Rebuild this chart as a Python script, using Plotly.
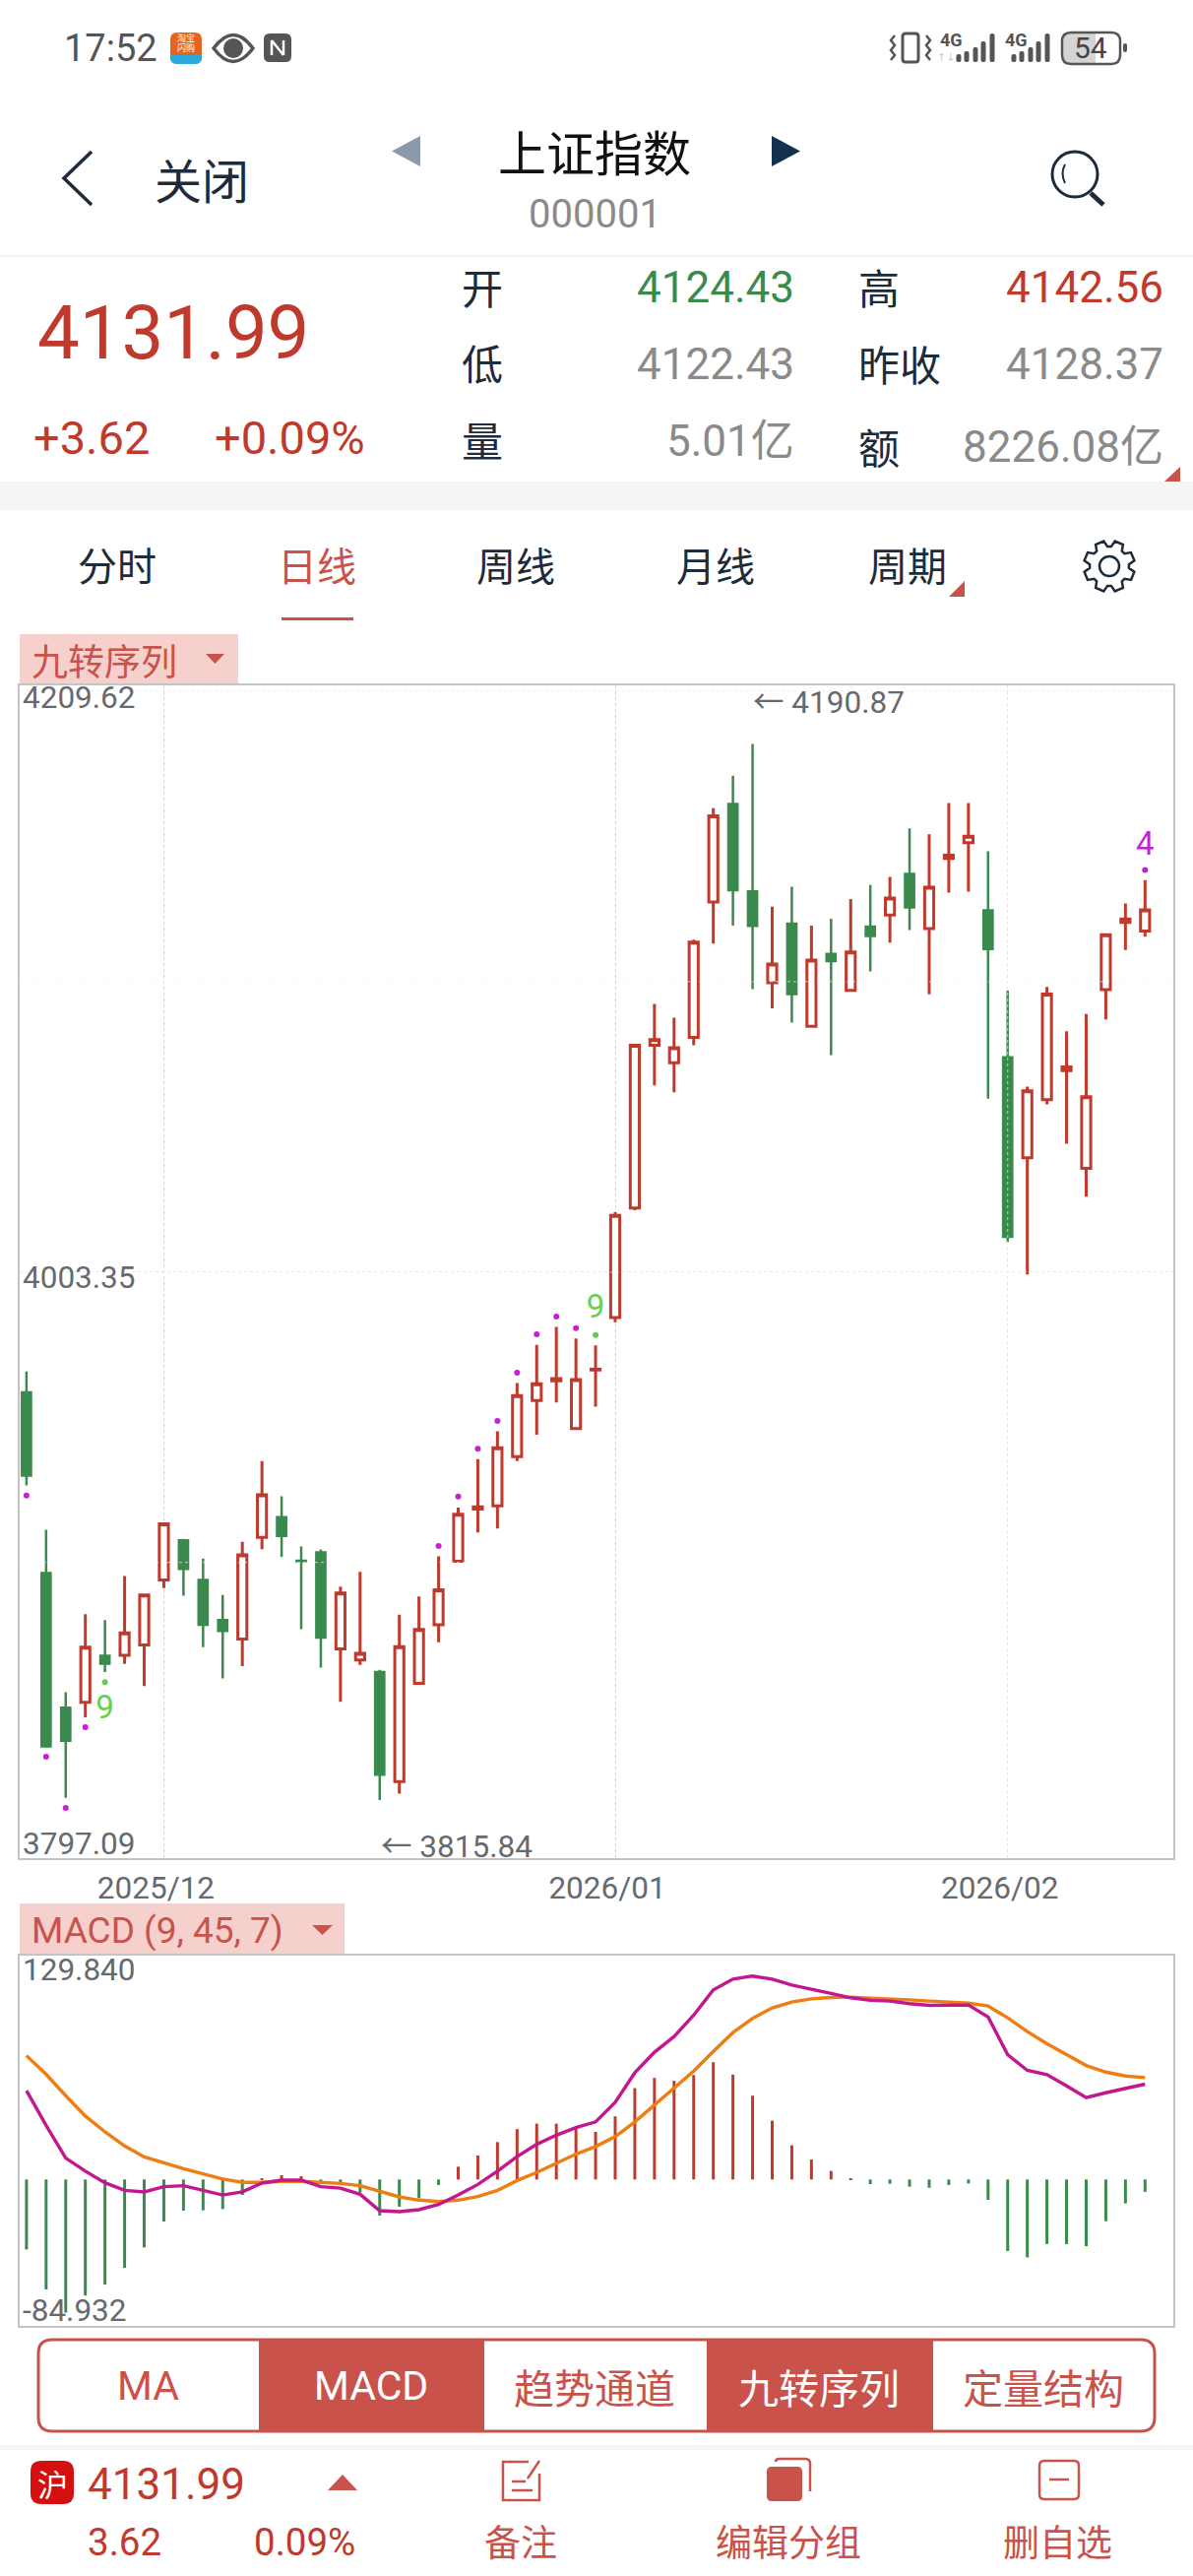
import math
import plotly.graph_objects as go

W, H = 1212, 2616

# ---------- data ----------
dates = ["2025-11-20","2025-11-21","2025-11-24","2025-11-25","2025-11-26","2025-11-27","2025-11-28",
         "2025-12-01","2025-12-02","2025-12-03","2025-12-04","2025-12-05","2025-12-08","2025-12-09","2025-12-10","2025-12-11","2025-12-12",
         "2025-12-15","2025-12-16","2025-12-17","2025-12-18","2025-12-19","2025-12-22","2025-12-23","2025-12-24","2025-12-25","2025-12-26",
         "2025-12-29","2025-12-30","2025-12-31",
         "2026-01-05","2026-01-06","2026-01-07","2026-01-08","2026-01-09","2026-01-12","2026-01-13","2026-01-14","2026-01-15","2026-01-16",
         "2026-01-19","2026-01-20","2026-01-21","2026-01-22","2026-01-23","2026-01-26","2026-01-27","2026-01-28","2026-01-29","2026-01-30",
         "2026-02-02","2026-02-03","2026-02-04","2026-02-05","2026-02-06","2026-02-09","2026-02-10","2026-02-11"]
opens = [3960.6,3896.4,3848.6,3850.5,3867.1,3867.2,3870.9,3894.0,3908.1,3894.0,3879.7,3873.0,3909.1,3916.3,3900.8,3903.8,3869.5,
         3865.6,3861.3,3822.4,3857.3,3878.1,3900.6,3919.2,3920.3,3937.8,3957.7,3964.7,3947.8,3968.6,
         3987.2,4026.1,4083.9,4077.7,4086.7,4134.8,4169.6,4138.5,4106.1,4127.1,4090.6,4116.3,4103.4,4126.0,4130.1,4144.7,4125.3,4150.2,4155.8,
         4131.8,4079.6,4043.9,4064.6,4074.9,4040.2,4103.6,4127.5,4124.43]
closes = [3931.1,3834.9,3836.9,3870.1,3864.3,3875.2,3888.7,3913.9,3897.9,3878.1,3875.9,3902.9,3924.2,3909.6,3900.6,3873.5,3889.4,
          3867.9,3824.8,3870.3,3876.4,3890.5,3917.3,3920.0,3940.9,3959.5,3963.7,3965.5,3965.2,3968.8,
          4023.5,4083.9,4085.9,4083.0,4120.5,4165.4,4139.0,4126.3,4112.7,4102.1,4114.1,4113.8,4117.0,4122.7,4136.2,4132.8,4140.0,4151.4,4158.1,
          4118.1,4015.9,4067.7,4102.1,4076.2,4065.6,4123.1,4128.7,4131.99]
highs = [3968.0,3911.8,3854.1,3881.8,3879.7,3895.4,3888.7,3913.9,3908.6,3901.6,3888.7,3907.5,3936.2,3923.7,3905.9,3904.8,3891.6,
         3896.9,3862.1,3881.7,3888.1,3902.4,3919.7,3936.9,3946.8,3963.9,3977.5,3983.9,3979.8,3977.3,
         4024.6,4083.9,4098.6,4093.7,4121.4,4168.1,4179.6,4190.87,4133.1,4140.2,4126.4,4128.8,4135.8,4140.8,4143.7,4160.9,4158.8,4169.9,4169.9,
         4152.8,4103.3,4069.2,4104.6,4088.9,4095.0,4123.1,4134.2,4142.56]
lows = [3927.6,3834.8,3816.6,3845.2,3861.3,3864.2,3856.3,3891.1,3888.4,3870.1,3859.0,3863.4,3904.9,3902.2,3876.5,3862.9,3850.7,
        3863.8,3815.84,3818.1,3857.0,3871.9,3900.3,3910.9,3912.3,3936.2,3945.6,3957.0,3947.5,3955.5,
        3985.5,4025.3,4069.6,4067.2,4083.9,4120.0,4126.4,4103.8,4097.0,4091.9,4090.4,4080.4,4103.2,4110.1,4120.3,4124.8,4102.0,4138.1,4138.4,
        4064.9,4013.9,4002.5,4062.9,4048.9,4030.1,4093.1,4117.7,4122.43]

td_up_dates = ["2025-11-20","2025-11-21","2025-11-24","2025-11-25","2025-12-19","2025-12-22","2025-12-23","2025-12-24","2025-12-25",
               "2025-12-26","2025-12-29","2025-12-30","2026-02-11"]
td_up_vals = [3924.0,3831.2,3813.0,3841.7,3906.1,3923.6,3940.6,3950.5,3967.6,3981.2,3987.5,3983.4,4146.1]
td_green_dates = ["2025-11-26","2025-12-31"]
td_green_vals = [3857.7,3981.0]
td_num_dates = ["2025-11-26","2025-12-31","2026-02-11"]
td_num_vals = [3847.9,3990.0,4154.5]
td_num_text = ["9","9","4"]

macd_bar = [-40.6,-63.8,-77.2,-67.3,-61.0,-51.3,-39.4,-24.4,-18.1,-17.9,-17.2,-9.0,0.5,2.5,1.9,-1.3,-1.9,-7.6,-21.0,-15.8,-10.9,-3.2,
            7.4,13.9,21.7,29.2,32.4,32.4,29.9,27.6,36.6,53.0,58.9,57.2,60.6,68.0,60.8,48.6,34.1,19.8,11.6,5.0,0.2,
            -2.7,-2.5,-4.2,-4.8,-3.2,-2.3,-11.8,-41.5,-45.2,-37.4,-37.5,-38.7,-24.2,-13.9,-7.2]
dif = [51.5,31.4,12.4,4.8,-1.9,-6.3,-7.2,-4.2,-3.6,-6.3,-9.0,-7.2,-2.1,-0.4,-0.4,-4.2,-5.0,-8.6,-18.1,-18.7,-17.5,-14.5,-9.0,-2.9,4.8,13.3,20.4,25.7,30.1,33.4,
       44.8,61.9,73.8,82.9,95.3,110.0,116.2,118.0,116.2,112.8,110.5,107.9,105.4,103.9,103.5,102.0,101.0,101.0,101.2,94.3,72.4,63.3,60.8,54.3,47.5,50.3,52.8,55.3]
dea = [71.8,61.0,48.6,36.8,27.6,19.4,13.1,9.5,6.3,3.2,0.2,-1.7,-1.7,-1.1,-1.1,-1.7,-2.3,-3.6,-7.1,-10.1,-12.0,-12.8,-12.0,-9.9,-6.3,-0.6,4.0,9.5,14.7,19.1,
       24.8,33.4,43.3,52.8,62.9,74.3,85.2,93.4,99.5,102.9,104.8,105.6,105.8,105.2,104.8,104.2,103.5,102.9,102.3,100.6,93.8,85.8,78.7,72.4,66.1,62.3,60.0,59.1]

month_ticks = ["2025-12-01","2026-01-05","2026-02-02"]
month_labels = ["2025/12","2026/01","2026/02"]
price_grid = [3900.22,4106.49,4209.62]
price_mid = [4003.35]
price_labels = ["4209.62","4003.35","3797.09"]
macd_labels = ["129.840","-84.932"]

# ---------- styling ----------
RED = "#bf3a2c"; GREEN = "#3a8a4e"; UI = "#c9534a"; DARK = "#1d2b3a"; GREY = "#8a8a8a"; AX = "#666a6e"
NUM = 'Roboto, "Noto Sans CJK SC"'; CJK = '"Noto Sans CJK SC", Roboto'

def X(x): return x / W
def Y(y): return 1 - y / H

shapes, anns = [], []

def P(d):
    out, isx, parts = [], True, d.split()
    for t in parts:
        if t.isalpha():
            out.append(t); isx = True
        else:
            v = float(t)
            out.append(f"{X(v):.6f}" if isx else f"{Y(v):.6f}")
            isx = not isx
    return " ".join(out)

def path(d, fill=None, line=None, lw=0, layer="above"):
    s = dict(type="path", xref="paper", yref="paper", path=P(d), layer=layer, line=dict(width=lw, color=line or "rgba(0,0,0,0)"))
    if fill: s["fillcolor"] = fill
    shapes.append(s)

def rect(x0, y0, x1, y1, fill=None, line=None, lw=0, layer="below"):
    s = dict(type="rect", xref="paper", yref="paper", x0=X(x0), x1=X(x1), y0=Y(y0), y1=Y(y1), layer=layer,
             line=dict(width=lw, color=line or "rgba(0,0,0,0)"))
    if fill: s["fillcolor"] = fill
    shapes.append(s)

def circ(cx, cy, r, fill=None, line=None, lw=0):
    s = dict(type="circle", xref="paper", yref="paper", x0=X(cx-r), x1=X(cx+r), y0=Y(cy-r), y1=Y(cy+r),
             line=dict(width=lw, color=line or "rgba(0,0,0,0)"))
    if fill: s["fillcolor"] = fill
    shapes.append(s)

def rr(x0, y0, x1, y1, r):
    return (f"M {x0+r} {y0} L {x1-r} {y0} Q {x1} {y0} {x1} {y0+r} L {x1} {y1-r} Q {x1} {y1} {x1-r} {y1} "
            f"L {x0+r} {y1} Q {x0} {y1} {x0} {y1-r} L {x0} {y0+r} Q {x0} {y0} {x0+r} {y0} Z")

def txt(s, x, y, size, color, anchor="center", font=CJK):
    anns.append(dict(text=s, x=X(x), y=Y(y), xref="paper", yref="paper", showarrow=False, xanchor=anchor, yanchor="middle",
                     font=dict(size=size, color=color, family=font), borderpad=0, borderwidth=0))

# ---- status bar ----
txt("17:52", 65, 49, 38, "#555555", "left", NUM)
path(rr(173, 33, 205, 65, 7), fill="#e8641b")
path("M 173 56 L 205 56 L 205 58 Q 205 65 198 65 L 180 65 Q 173 65 173 58 Z", fill="#29a9e0")
txt("淘宝", 189, 39, 9, "#ffffff"); txt("闪购", 189, 49, 9, "#ffffff")
path("M 217 49 Q 237 22 257 49 Q 237 76 217 49 Z", line="#555555", lw=3.5)
circ(237, 49, 10, fill="#555555")
path(rr(268, 34, 296, 63, 6), fill="#555555")
path("M 276 41 L 276 56 M 276 41 L 288 56 M 288 41 L 288 56", line="#ffffff", lw=2.5)

path(rr(917, 34, 933, 63, 3), line="#555555", lw=3)
path("M 909 36 L 905 41 L 909 46 L 905 51 L 909 56 L 905 61", line="#555555", lw=2.5)
path("M 941 36 L 945 41 L 941 46 L 945 51 L 941 56 L 945 61", line="#555555", lw=2.5)
txt("<b>4G</b>", 966, 41, 18, "#555555", font=NUM)
txt("↑↓", 961, 59, 11, "#cccccc", font="DejaVu Sans")
for bx, top in [(974, 55), (982, 52), (991, 48), (999, 42), (1008, 34)]:
    path(rr(bx-2.5, top, bx+2.5, 63, 2), fill="#555555")
txt("<b>4G</b>", 1032, 41, 18, "#555555", font=NUM)
for bx, top in [(1030, 55), (1038, 52), (1047, 48), (1055, 42), (1064, 34)]:
    path(rr(bx-2.5, top, bx+2.5, 63, 2), fill="#555555")
path("M 1086 34 L 1113 34 L 1113 64 L 1086 64 Q 1079 64 1079 57 L 1079 41 Q 1079 34 1086 34 Z", fill="#d4d4d4")
path(rr(1079, 33, 1138, 65, 9), line="#555555", lw=2.5)
path(rr(1141, 44, 1145, 53, 2), fill="#555555")
txt("54", 1108, 49, 30, "#444444", font=NUM)

# ---- header ----
path("M 93 154 L 65 181 L 93 208", line=DARK, lw=3.5)
txt("关闭", 205, 181, 48, DARK)
path("M 427 138 L 398 153.5 L 427 169 Z", fill="#8b9aab")
path("M 784 138 L 813 153.5 L 784 169 Z", fill="#14304f")
txt("上证指数", 604, 152, 49, "#111111")
txt("000001", 604, 217, 40, GREY, font=NUM)
circ(1092, 177, 23, line=DARK, lw=3)
path("M 1108 196 L 1121 208", line=DARK, lw=5)
path("M 1082 167 Q 1077 176 1082 186", line=DARK, lw=2)
rect(0, 259, W, 261, fill="#f4f4f4")

# ---- quote block ----
txt("4131.99", 38, 338, 76, RED, "left", NUM)
txt("+3.62", 34, 445, 47, RED, "left", NUM)
txt("+0.09%", 218, 445, 47, RED, "left", NUM)
for s, y in [("开", 291), ("低", 368), ("量", 446)]:
    txt(s, 469, y, 42, DARK, "left")
for s, y in [("高", 291), ("昨收", 369), ("额", 453)]:
    txt(s, 872, y, 42, DARK, "left")
txt("4124.43", 807, 292, 44, GREEN, "right", NUM)
txt("4122.43", 807, 370, 44, GREY, "right", NUM)
txt("5.01亿", 807, 448, 44, GREY, "right", NUM)
txt("4142.56", 1182, 292, 44, RED, "right", NUM)
txt("4128.37", 1182, 370, 44, GREY, "right", NUM)
txt("8226.08亿", 1182, 454, 44, GREY, "right", NUM)
path("M 1199 474 L 1199 489 L 1183 489 Z", fill=UI)
rect(0, 489, W, 518, fill="#f5f5f5")

# ---- tabs ----
for s, x, c in [("分时", 119, DARK), ("日线", 322, UI), ("周线", 524, DARK), ("月线", 727, DARK), ("周期", 922, DARK)]:
    txt(s, x, 573, 40, c)
rect(286, 627, 359, 630, fill=UI)
path("M 980 590 L 980 606 L 964 606 Z", fill=UI)
# gear
gx, gy, pts = 1127, 575, []
for k in range(8):
    a = k * math.pi / 4
    for da, r in [(-0.30, 20), (-0.17, 26), (0.17, 26), (0.30, 20)]:
        pts.append((gx + r * math.cos(a + da + math.pi / 8), gy + r * math.sin(a + da + math.pi / 8)))
path("M " + " L ".join(f"{p[0]:.1f} {p[1]:.1f}" for p in pts) + " Z", line=DARK, lw=2.5)
circ(gx, gy, 10, line=DARK, lw=2.5)

# ---- panel tags ----
rect(20, 644, 242, 696, fill="#f5d0cd")
txt("九转序列", 32, 670, 37, UI, "left")
path("M 209 664 L 228 664 L 218.5 674 Z", fill=UI)
rect(20, 1933, 350, 1986, fill="#f5d0cd")
txt("MACD (9, 45, 7)", 32, 1960, 37, UI, "left", NUM)
path("M 317 1955 L 338 1955 L 327.5 1965 Z", fill=UI)

# ---- chart labels ----
for s, y in zip(price_labels, [708, 1297, 1872]):
    txt(s, 23, y, 31.5, AX, "left", NUM)
txt("← " + "4190.87", 765, 714, 31.5, AX, "left", NUM)
txt("← " + "3815.84", 387, 1875, 31.5, AX, "left", NUM)
txt(macd_labels[0], 23, 2000, 31.5, AX, "left", NUM)
txt(macd_labels[1], 23, 2346, 31.5, AX, "left", NUM)

# ---- indicator buttons ----
path(rr(39, 2376, 1173, 2469, 14), line=UI, lw=3)
path("M 263 2376 L 492 2376 L 492 2469 L 263 2469 Z", fill=UI)
path("M 718 2376 L 948 2376 L 948 2469 L 718 2469 Z", fill=UI)
for s, x, c, f in [("MA", 150, UI, NUM), ("MACD", 377, "#ffffff", NUM), ("趋势通道", 604, UI, CJK), ("九转序列", 832, "#ffffff", CJK), ("定量结构", 1060, UI, CJK)]:
    txt(s, x, 2423, 41, c, font=f)

# ---- bottom bar ----
rect(0, 2483, W, 2488, fill="#f5f5f5")
path(rr(31, 2499, 75, 2543, 11), fill="#d40f0f")
txt("沪", 53, 2521, 31, "#ffffff")
txt("4131.99", 89, 2523, 44, RED, "left", NUM)
path("M 348 2513 L 363 2529 L 333 2529 Z", fill=UI)
txt("3.62", 89, 2581, 38.5, RED, "left", NUM)
txt("0.09%", 258, 2581, 38.5, RED, "left", NUM)
txt("备注", 529, 2580, 37, UI)
txt("编辑分组", 801, 2580, 37, UI)
txt("删自选", 1074, 2580, 37, UI)
path("M 548 2512 L 548 2539 L 511 2539 L 511 2500 L 537 2500", line=UI, lw=2.5)
path("M 548 2499 L 536 2517", line=UI, lw=2.5)
path("M 520 2520 L 534 2520 M 520 2529 L 541 2529", line=UI, lw=2.5)
path(rr(779, 2505, 815, 2540, 5), fill=UI)
path("M 788 2500 Q 788 2497 792 2497 L 818 2497 Q 823 2497 823 2502 L 823 2530", line=UI, lw=2.5)
path(rr(1056, 2499, 1096, 2538, 5), line=UI, lw=2.5)
path("M 1066 2518 L 1086 2518", line=UI, lw=2.5)

# pale grid dots that show through the candle bodies
for v in price_grid[:2] + price_mid:
    shapes.append(dict(type="line", xref="x domain", yref="y", x0=0, x1=1, y0=v, y1=v, layer="above",
                       line=dict(color="rgba(255,255,255,0.65)", width=1, dash="dot")))
for d in month_ticks[2:]:
    shapes.append(dict(type="line", xref="x", yref="y domain", x0=d, x1=d, y0=0, y1=1, layer="above",
                       line=dict(color="rgba(255,255,255,0.6)", width=1, dash="dot")))

# ---------- traces ----------
fig = go.Figure()
fig.add_trace(go.Candlestick(
    x=dates, open=opens, high=highs, low=lows, close=closes, whiskerwidth=0, xaxis="x", yaxis="y", showlegend=False,
    increasing=dict(line=dict(color=RED, width=3), fillcolor="#ffffff"),
    decreasing=dict(line=dict(color=GREEN, width=2.5), fillcolor=GREEN)))
fig.add_trace(go.Scatter(x=td_up_dates, y=td_up_vals, mode="markers", marker=dict(size=6, color="#c81fd6"), showlegend=False))
fig.add_trace(go.Scatter(x=td_green_dates, y=td_green_vals, mode="markers", marker=dict(size=6, color="#6bc65a"), showlegend=False))
fig.add_trace(go.Scatter(x=td_num_dates, y=td_num_vals, mode="text", text=td_num_text, textposition="middle center",
                         textfont=dict(size=33, family=NUM, color=["#62d24f", "#62d24f", "#c81fd6"]), showlegend=False))

fig.add_trace(go.Bar(x=dates, y=macd_bar, width=0.15, xaxis="x2", yaxis="y2", showlegend=False,
                     marker=dict(color=[RED if v > 0 else GREEN for v in macd_bar], line=dict(width=0))))
fig.add_trace(go.Scatter(x=dates, y=dea, mode="lines", line=dict(color="#ee7d12", width=3.4), xaxis="x2", yaxis="y2", showlegend=False))
fig.add_trace(go.Scatter(x=dates, y=dif, mode="lines", line=dict(color="#c2188f", width=3.4), xaxis="x2", yaxis="y2", showlegend=False))

xr = [-0.346, 58.44]
frame = dict(showline=True, linecolor="#c4c4c4", linewidth=2, mirror=True, zeroline=False, ticks="")
fig.update_layout(
    width=W, height=H, margin=dict(l=0, r=0, t=0, b=0), paper_bgcolor="#ffffff", plot_bgcolor="#ffffff",
    showlegend=False, boxgap=0.34, shapes=shapes, annotations=anns, hovermode=False,
    xaxis=dict(domain=[X(20), X(1192)], type="category", categoryorder="array", categoryarray=dates, range=xr, anchor="y",
               rangeslider=dict(visible=False), tickmode="array", tickvals=month_ticks, ticktext=month_labels,
               tickfont=dict(size=31.5, color=AX, family=NUM), ticklabelshift=-8, ticklabelstandoff=1,
               showgrid=True, gridcolor="#d0d0d0", griddash="dot", gridwidth=1, **frame),
    yaxis=dict(domain=[Y(1887), Y(696)], range=[3795.2, 4211.7], anchor="x", tickmode="array", tickvals=price_grid,
               showticklabels=False, showgrid=True, gridcolor="#f0f0f0", griddash="dot", gridwidth=1,
               minor=dict(tickmode="array", tickvals=price_mid, showgrid=True, gridcolor="#d8d8d8", griddash="dot", gridwidth=1, ticks=""),
               **frame),
    xaxis2=dict(domain=[X(20), X(1192)], type="category", categoryorder="array", categoryarray=dates, range=xr, anchor="y2",
                showticklabels=False, showgrid=False, **frame),
    yaxis2=dict(domain=[Y(2362), Y(1986)], range=[-84.932, 129.84], anchor="x2", showticklabels=False, showgrid=False, **frame),
)
fig.write_html("out.html", config=dict(displayModeBar=False),
               post_script="document.body.style.margin='0';document.body.style.overflow='hidden';")
